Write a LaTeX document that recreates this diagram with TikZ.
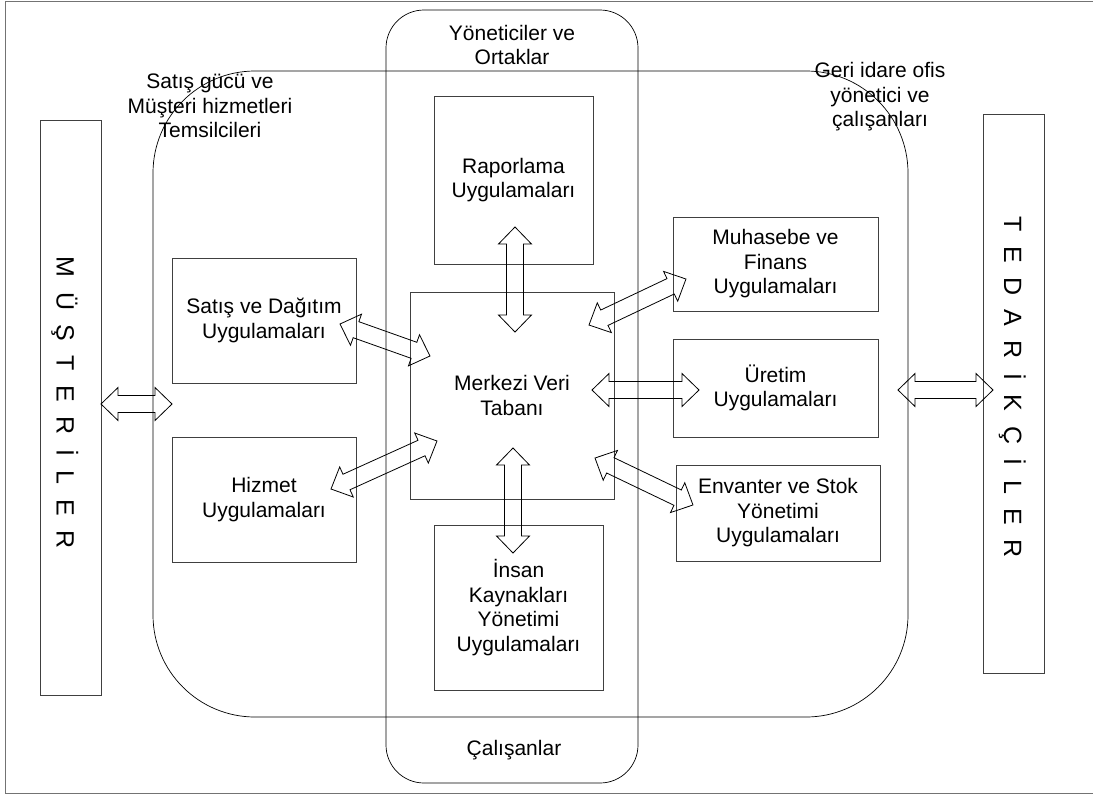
\documentclass[tikz,border=0pt]{standalone}
\usepackage{fontspec}
\setmainfont{Liberation Sans}
\usetikzlibrary{calc}

% gap between the letters of the vertical labels
\newcommand\ltrgap{\hspace{14.5pt}}

% hollow double-headed block arrow from tip #1 to tip #2
\newcommand\dblarrow[2]{%
  \path let \p1=($(#2)-(#1)$) in
    \pgfextra{\pgfmathparse{atan2(\y1,\x1)}\xdef\arang{\pgfmathresult}%
              \pgfmathparse{veclen(\x1,\y1)}\xdef\arlen{\pgfmathresult}};
  \draw[blockarrow, shift={(#1)}, rotate=\arang]
    (0,0) -- (17,16.5) -- (17,8.5) -- (\arlen-17,8.5) -- (\arlen-17,16.5)
    -- (\arlen,0) -- (\arlen-17,-16.5) -- (\arlen-17,-8.5) -- (17,-8.5)
    -- (17,-16.5) -- cycle;
}

\tikzset{
  txt/.style={font=\fontsize{21}{24.5}\selectfont, align=center, inner sep=0pt},
  app/.style={txt, draw=black!75, line width=0.8pt},
  side/.style={draw=black!75, line width=0.8pt, inner sep=0pt},
  vlabel/.style={font=\fontsize{25}{30}\selectfont, rotate=-90, anchor=base, inner sep=0pt},
  group/.style={draw=black, line width=0.7pt},
  blockarrow/.style={draw=black, line width=0.8pt, line join=miter},
}

\begin{document}
\begin{tikzpicture}[x=1pt, y=-1pt]
\useasboundingbox (0,0) rectangle (1093,796);

% page frame
\draw[black!55, line width=0.9pt] (1093,1) -- (5,1) -- (5,793) -- (1093,793);

% staff groups
\draw[group, rounded corners=102pt] (153,71) rectangle (908,717);
\draw[group, rounded corners=38pt] (386,10) rectangle (638,783);

\node[txt] (gmgr) at (512,45) {Yöneticiler ve\\Ortaklar};
\node[txt] (gsales) at (210,106) {Satış gücü ve\\Müşteri hizmetleri\\Temsilcileri};
\node[txt] (gback) at (880,97) {Geri idare ofis\\yönetici ve\\çalışanları};
\node[txt] (gemp) at (514,750) {Çalışanlar};

% customers and suppliers
\node[side, minimum width=61pt, minimum height=575pt] (mus) at (70.5,407.5) {};
\node[side, minimum width=61pt, minimum height=559pt] (ted) at (1013.5,393.5) {};
\node[vlabel] (muslbl) at (56.5,402.5)
  {M\ltrgap Ü\ltrgap Ş\ltrgap T\ltrgap E\ltrgap R\ltrgap İ\ltrgap L\ltrgap E\ltrgap R};
\node[vlabel] (tedlbl) at (1004,387)
  {T\ltrgap E\ltrgap D\ltrgap A\ltrgap R\ltrgap İ\ltrgap K\ltrgap Ç\ltrgap İ\ltrgap L\ltrgap E\ltrgap R};

% application boxes
\node[app, minimum width=159pt, minimum height=168pt] (rap) at (513.5,180) {Raporlama\\Uygulamaları};
\node[app, minimum width=204pt, minimum height=207pt] (mvt) at (512,395.5) {Merkezi Veri\\Tabanı};
\node[app, minimum width=184pt, minimum height=125pt] (sat) at (264,320.5) {Satış ve Dağıtım\\Uygulamaları};
\node[app, minimum width=184pt, minimum height=125pt] (hiz) at (264,499.5) {Hizmet\\Uygulamaları};
\node[app, minimum width=169pt, minimum height=165pt] (ik) at (518.5,607.5) {İnsan\\Kaynakları\\Yönetimi\\Uygulamaları};
\node[app, minimum width=205pt, minimum height=94pt] (muh) at (775.5,264) {Muhasebe ve\\Finans\\Uygulamaları};
\node[app, minimum width=205pt, minimum height=98pt] (ure) at (775.5,388) {Üretim\\Uygulamaları};
\node[app, minimum width=204pt, minimum height=96pt] (env) at (778,513) {Envanter ve Stok\\Yönetimi\\Uygulamaları};

% arrow tips
\coordinate (musR) at (101,404);
\coordinate (grpL) at (172,404);
\coordinate (grpR) at (898,390);
\coordinate (tedL) at (993,390);
\coordinate (mvtE) at (592,390);
\coordinate (ureW) at (699,390);
\coordinate (rapS) at (515,227);
\coordinate (mvtN) at (515,332);
\coordinate (mvtS) at (513,448);
\coordinate (ikN) at (513,553);
\coordinate (satE) at (340,324);
\coordinate (mvtNW) at (430,356);
\coordinate (hizE) at (331,489);
\coordinate (mvtSW) at (437,441);
\coordinate (mvtNE) at (589,325);
\coordinate (muhW) at (686,279);
\coordinate (mvtSE) at (595,458);
\coordinate (envW) at (693,505);

% data flows
\dblarrow{musR}{grpL}
\dblarrow{grpR}{tedL}
\dblarrow{mvtE}{ureW}
\dblarrow{rapS}{mvtN}
\dblarrow{mvtS}{ikN}
\dblarrow{satE}{mvtNW}
\dblarrow{hizE}{mvtSW}
\dblarrow{mvtNE}{muhW}
\dblarrow{mvtSE}{envW}
\end{tikzpicture}
\end{document}
